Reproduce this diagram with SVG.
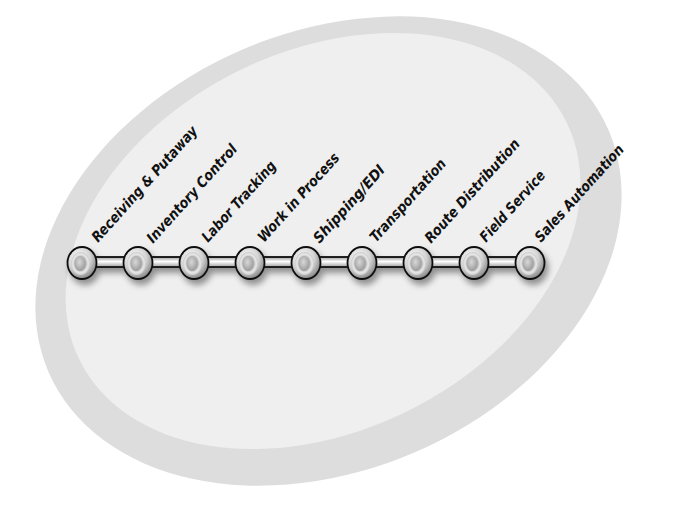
<svg xmlns="http://www.w3.org/2000/svg" width="676" height="506" viewBox="0 0 676 506">
<defs>
<style>
.lbl{font-family:"DejaVu Sans Condensed","DejaVu Sans",sans-serif;font-stretch:condensed;font-weight:bold;font-style:italic;font-size:14.5px;fill:#111}
.ball{fill:url(#gBall);stroke:#111;stroke-width:1.8}
.ring{fill:url(#gRing);stroke:none}
.hole{fill:url(#gHole)}
.bar{fill:url(#gBar);stroke:#111;stroke-width:1.8}
</style>
<radialGradient id="gBall" cx="0.4" cy="0.35" r="0.7">
<stop offset="0" stop-color="#ffffff"/><stop offset="0.55" stop-color="#d4d4d4"/><stop offset="1" stop-color="#7e7e7e"/>
</radialGradient>
<radialGradient id="gRing" cx="0.5" cy="0.5" r="0.5">
<stop offset="0.55" stop-color="#b4b4b4"/><stop offset="0.8" stop-color="#e8e8e8"/><stop offset="1" stop-color="#cacaca"/>
</radialGradient>
<radialGradient id="gHole" cx="0.45" cy="0.4" r="0.6">
<stop offset="0" stop-color="#d8d8d8"/><stop offset="1" stop-color="#9c9c9c"/>
</radialGradient>
<linearGradient id="gBar" x1="0" y1="0" x2="0" y2="1">
<stop offset="0" stop-color="#9a9a9a"/><stop offset="0.45" stop-color="#ffffff"/><stop offset="1" stop-color="#a0a0a0"/>
</linearGradient>
<filter id="shadow" x="-10%" y="-30%" width="130%" height="180%">
<feDropShadow dx="3" dy="5" stdDeviation="3" flood-color="#000" flood-opacity="0.4"/>
</filter>
</defs>
<g id="background">
<ellipse cx="328.5" cy="251" rx="305" ry="219" transform="rotate(-23.4 328.5 251)" fill="#dddddd"/>
<ellipse cx="323" cy="241" rx="271" ry="190" transform="rotate(-26 323 241)" fill="#efefef"/>
</g>
<g id="chain" filter="url(#shadow)">
<g id="connectors">
<rect class="bar" x="82" y="257" width="56" height="10"/>
<rect class="bar" x="138" y="257" width="56" height="10"/>
<rect class="bar" x="194" y="257" width="56" height="10"/>
<rect class="bar" x="250" y="257" width="56" height="10"/>
<rect class="bar" x="306" y="257" width="56" height="10"/>
<rect class="bar" x="362" y="257" width="56" height="10"/>
<rect class="bar" x="418" y="257" width="56" height="10"/>
<rect class="bar" x="474" y="257" width="56" height="10"/>
</g>
<g id="n1"><ellipse class="ball" cx="82" cy="263" rx="14.5" ry="16"/><ellipse class="ring" cx="80.5" cy="263.5" rx="9.5" ry="11.5"/><ellipse class="hole" cx="80" cy="263.5" rx="5.5" ry="7.5"/></g>
<g id="n2"><ellipse class="ball" cx="138" cy="263" rx="14.5" ry="16"/><ellipse class="ring" cx="136.5" cy="263.5" rx="9.5" ry="11.5"/><ellipse class="hole" cx="136" cy="263.5" rx="5.5" ry="7.5"/></g>
<g id="n3"><ellipse class="ball" cx="194" cy="263" rx="14.5" ry="16"/><ellipse class="ring" cx="192.5" cy="263.5" rx="9.5" ry="11.5"/><ellipse class="hole" cx="192" cy="263.5" rx="5.5" ry="7.5"/></g>
<g id="n4"><ellipse class="ball" cx="250" cy="263" rx="14.5" ry="16"/><ellipse class="ring" cx="248.5" cy="263.5" rx="9.5" ry="11.5"/><ellipse class="hole" cx="248" cy="263.5" rx="5.5" ry="7.5"/></g>
<g id="n5"><ellipse class="ball" cx="306" cy="263" rx="14.5" ry="16"/><ellipse class="ring" cx="304.5" cy="263.5" rx="9.5" ry="11.5"/><ellipse class="hole" cx="304" cy="263.5" rx="5.5" ry="7.5"/></g>
<g id="n6"><ellipse class="ball" cx="362" cy="263" rx="14.5" ry="16"/><ellipse class="ring" cx="360.5" cy="263.5" rx="9.5" ry="11.5"/><ellipse class="hole" cx="360" cy="263.5" rx="5.5" ry="7.5"/></g>
<g id="n7"><ellipse class="ball" cx="418" cy="263" rx="14.5" ry="16"/><ellipse class="ring" cx="416.5" cy="263.5" rx="9.5" ry="11.5"/><ellipse class="hole" cx="416" cy="263.5" rx="5.5" ry="7.5"/></g>
<g id="n8"><ellipse class="ball" cx="474" cy="263" rx="14.5" ry="16"/><ellipse class="ring" cx="472.5" cy="263.5" rx="9.5" ry="11.5"/><ellipse class="hole" cx="472" cy="263.5" rx="5.5" ry="7.5"/></g>
<g id="n9"><ellipse class="ball" cx="530" cy="263" rx="14.5" ry="16"/><ellipse class="ring" cx="528.5" cy="263.5" rx="9.5" ry="11.5"/><ellipse class="hole" cx="528" cy="263.5" rx="5.5" ry="7.5"/></g>
</g>
<g id="labels">
<text class="lbl" transform="translate(98 243) rotate(-48)" textLength="150" lengthAdjust="spacingAndGlyphs">Receiving &amp; Putaway</text>
<text class="lbl" transform="translate(153 244) rotate(-48)" textLength="127" lengthAdjust="spacingAndGlyphs">Inventory Control</text>
<text class="lbl" transform="translate(208 243) rotate(-48)" textLength="103" lengthAdjust="spacingAndGlyphs">Labor Tracking</text>
<text class="lbl" transform="translate(264 243) rotate(-48)" textLength="114" lengthAdjust="spacingAndGlyphs">Work in Process</text>
<text class="lbl" transform="translate(319.5 244) rotate(-48)" textLength="99" lengthAdjust="spacingAndGlyphs">Shipping/EDI</text>
<text class="lbl" transform="translate(376 243) rotate(-48)" textLength="106" lengthAdjust="spacingAndGlyphs">Transportation</text>
<text class="lbl" transform="translate(431 244) rotate(-48)" textLength="134" lengthAdjust="spacingAndGlyphs">Route Distribution</text>
<text class="lbl" transform="translate(486 243) rotate(-48)" textLength="90" lengthAdjust="spacingAndGlyphs">Field Service</text>
<text class="lbl" transform="translate(541 243) rotate(-48)" textLength="125" lengthAdjust="spacingAndGlyphs">Sales Automation</text>
</g>
</svg>
